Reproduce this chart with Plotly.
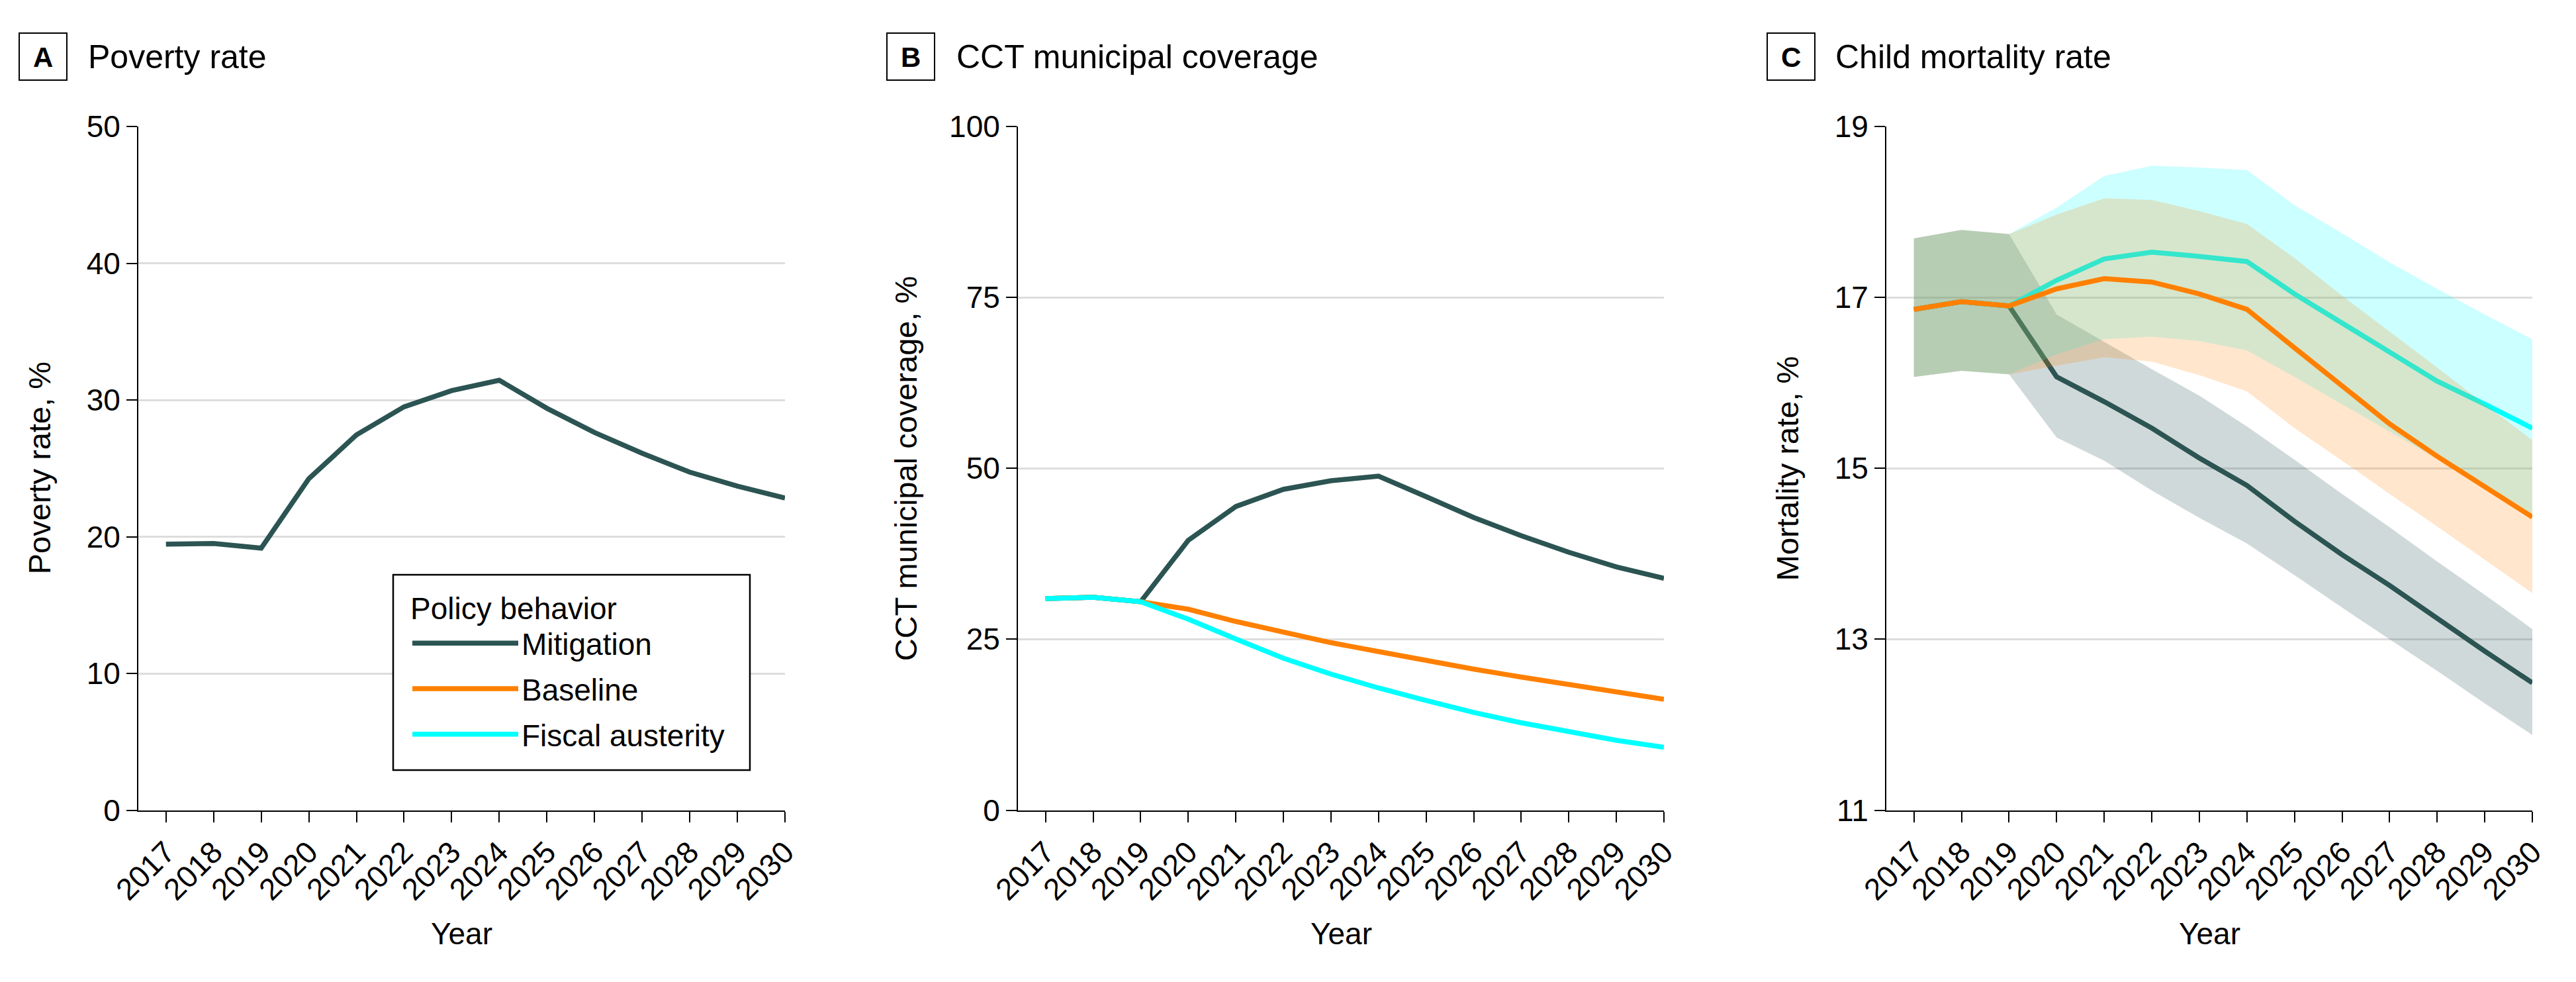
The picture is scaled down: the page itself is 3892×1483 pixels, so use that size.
import plotly.graph_objects as go

PAGE_W, PAGE_H = 3892, 1483
OFF = 8  # default body margin of the html page
W, H = PAGE_W - OFF, PAGE_H - OFF
FONT = "Liberation Sans, Arial, sans-serif"

years = list(range(2017, 2031))
year_labels = [str(y) for y in years]

# Panel A - poverty rate (%)
poverty_mitigation = [19.45, 19.50, 19.16, 24.24, 27.44, 29.50, 30.68, 31.44, 29.39, 27.62, 26.10, 24.72, 23.70, 22.83]

# Panel B - CCT municipal coverage (%)
cct_mitigation = [30.94, 31.14, 30.49, 39.47, 44.41, 46.93, 48.18, 48.86, 45.86, 42.81, 40.15, 37.72, 35.59, 33.90]
cct_baseline = [30.94, 31.14, 30.49, 29.39, 27.60, 25.96, 24.50, 23.20, 21.84, 20.63, 19.47, 18.40, 17.29, 16.22]
cct_austerity = [30.94, 31.14, 30.49, 27.94, 25.04, 22.23, 19.90, 17.87, 16.03, 14.29, 12.78, 11.43, 10.22, 9.20]

# Panel C - child mortality rate (%), with uncertainty bands
mort_mitigation = [16.86, 16.95, 16.90, 16.07, 15.78, 15.47, 15.12, 14.80, 14.38, 13.99, 13.63, 13.24, 12.86, 12.49]
mort_mitigation_lo = [16.07, 16.14, 16.10, 15.36, 15.09, 14.74, 14.42, 14.12, 13.75, 13.37, 13.00, 12.63, 12.25, 11.88]
mort_mitigation_hi = [17.69, 17.79, 17.74, 16.80, 16.48, 16.16, 15.85, 15.49, 15.10, 14.70, 14.31, 13.91, 13.52, 13.12]

mort_baseline = [16.86, 16.95, 16.90, 17.10, 17.22, 17.18, 17.04, 16.86, 16.41, 15.97, 15.52, 15.14, 14.78, 14.43]
mort_baseline_lo = [16.07, 16.14, 16.10, 16.20, 16.30, 16.25, 16.09, 15.90, 15.47, 15.09, 14.70, 14.32, 13.93, 13.54]
mort_baseline_hi = [17.69, 17.79, 17.74, 17.97, 18.16, 18.14, 18.01, 17.86, 17.46, 17.02, 16.60, 16.18, 15.75, 15.33]

mort_austerity = [16.86, 16.95, 16.90, 17.20, 17.45, 17.53, 17.48, 17.42, 17.04, 16.70, 16.37, 16.02, 15.75, 15.47]
mort_austerity_lo = [16.07, 16.14, 16.10, 16.33, 16.51, 16.54, 16.49, 16.38, 16.07, 15.75, 15.43, 15.11, 14.78, 14.47]
mort_austerity_hi = [17.69, 17.79, 17.74, 18.05, 18.42, 18.54, 18.52, 18.49, 18.08, 17.75, 17.41, 17.10, 16.80, 16.51]

C_MIT = "#2B5452"
C_BASE = "#FF8000"
C_AUST = "#00FFFF"
F_MIT = "rgba(43,84,82,0.22)"
F_BASE = "rgba(255,128,0,0.2)"
F_AUST = "rgba(0,255,255,0.2)"
LW = 7.5

fig = go.Figure()

# Panel A
fig.add_trace(go.Scatter(x=years, y=poverty_mitigation, mode="lines", line=dict(color=C_MIT, width=LW),
                         name="Mitigation", showlegend=False, xaxis="x", yaxis="y"))

# Panel B
fig.add_trace(go.Scatter(x=years, y=cct_mitigation, mode="lines", line=dict(color=C_MIT, width=LW),
                         name="Mitigation", legendrank=1, legendgroup="m", xaxis="x2", yaxis="y2"))
fig.add_trace(go.Scatter(x=years, y=cct_baseline, mode="lines", line=dict(color=C_BASE, width=LW),
                         name="Baseline", legendrank=2, legendgroup="b", xaxis="x2", yaxis="y2"))
fig.add_trace(go.Scatter(x=years, y=cct_austerity, mode="lines", line=dict(color=C_AUST, width=LW),
                         name="Fiscal austerity", legendrank=3, legendgroup="a", xaxis="x2", yaxis="y2"))

# Panel C
def band(lo, hi, fill):
    return go.Scatter(x=years + years[::-1], y=hi + lo[::-1], mode="lines", fill="toself",
                      fillcolor=fill, line=dict(width=0), hoverinfo="skip", showlegend=False,
                      xaxis="x3", yaxis="y3")

fig.add_trace(band(mort_mitigation_lo, mort_mitigation_hi, F_MIT))
fig.add_trace(go.Scatter(x=years, y=mort_mitigation, mode="lines", line=dict(color=C_MIT, width=LW),
                         showlegend=False, xaxis="x3", yaxis="y3"))
fig.add_trace(band(mort_austerity_lo, mort_austerity_hi, F_AUST))
fig.add_trace(go.Scatter(x=years, y=mort_austerity, mode="lines", line=dict(color=C_AUST, width=LW),
                         showlegend=False, xaxis="x3", yaxis="y3"))
fig.add_trace(band(mort_baseline_lo, mort_baseline_hi, F_BASE))
fig.add_trace(go.Scatter(x=years, y=mort_baseline, mode="lines", line=dict(color=C_BASE, width=LW),
                         showlegend=False, xaxis="x3", yaxis="y3"))

# page pixel -> paper coordinate
def px_x(p):
    return (p - OFF) / W

def px_y(p):
    return 1 - (p - OFF) / H

y_top, y_bot = 191, 1223.5
panels = [(209, 1186), (1538, 2514), (2850, 3826)]

tickfont = dict(family=FONT, size=46, color="black")
xcommon = dict(range=[2016.42, 2030], tickvals=years, ticktext=year_labels, tickangle=-45,
               ticks="outside", ticklen=16, tickwidth=2, tickcolor="black", showline=True,
               linecolor="black", linewidth=2, showgrid=False, zeroline=False, tickfont=tickfont,
               automargin=False)
ycommon = dict(ticks="outside", ticklen=16, tickwidth=2, tickcolor="black", showline=True,
               linecolor="black", linewidth=2, showgrid=True, gridcolor="#DDDDDD", gridwidth=3,
               zeroline=False, tickfont=tickfont, automargin=False)

layout = dict(
    width=W, height=H, margin=dict(l=0, r=0, t=0, b=0, autoexpand=False),
    paper_bgcolor="white", plot_bgcolor="white",
    font=dict(family=FONT, size=46, color="black"),
    showlegend=True,
    legend=dict(x=px_x(618), y=px_y(875), xanchor="left", yanchor="top",
                bgcolor="rgba(0,0,0,0)", borderwidth=0,
                font=dict(family=FONT, size=46, color="black"),
                title=dict(text="Policy behavior", font=dict(family=FONT, size=46)),
                traceorder="grouped", tracegroupgap=6, itemwidth=160),
)
yranges = [[0, 50], [0, 100], [11, 19]]
yticks = [[0, 10, 20, 30, 40, 50], [0, 25, 50, 75, 100], [11, 13, 15, 17, 19]]
for i, ((x0, x1), yr, yt) in enumerate(zip(panels, yranges, yticks)):
    sfx = "" if i == 0 else str(i + 1)
    xa = dict(xcommon, domain=[px_x(x0), px_x(x1)], anchor="y" + sfx)
    ya = dict(ycommon, domain=[px_y(y_bot), px_y(y_top)], range=yr, tickvals=yt, anchor="x" + sfx)
    layout["xaxis" + sfx] = xa
    layout["yaxis" + sfx] = ya

fig.update_layout(**layout)

# Legend frame (covers gridline behind the legend, as in the original)
fig.add_shape(type="rect", xref="paper", yref="paper", x0=px_x(594), x1=px_x(1133),
              y0=px_y(1163), y1=px_y(868), line=dict(color="black", width=2.5),
              fillcolor="white", layer="above")

# Panel titles with boxed letters
titles = [("A", "Poverty rate", 29, 131), ("B", "CCT municipal coverage", 1340, 1443), ("C", "Child mortality rate", 2670, 2771)]
for letter, text, bx, tx in titles:
    fig.add_shape(type="rect", xref="paper", yref="paper", x0=px_x(bx), x1=px_x(bx + 72),
                  y0=px_y(121), y1=px_y(50), line=dict(color="black", width=2), fillcolor="white")
    fig.add_annotation(xref="paper", yref="paper", x=px_x(bx + 36), y=px_y(86), text="<b>" + letter + "</b>",
                       showarrow=False, xanchor="center", yanchor="middle", font=dict(family=FONT, size=42))
    fig.add_annotation(xref="paper", yref="paper", x=px_x(tx), y=px_y(86), text=text,
                       showarrow=False, xanchor="left", yanchor="middle", font=dict(family=FONT, size=50))

# Axis titles
ytitles = [("Poverty rate, %", 59), ("CCT municipal coverage, %", 1368), ("Mortality rate, %", 2700)]
for text, cx in ytitles:
    fig.add_annotation(xref="paper", yref="paper", x=px_x(cx), y=px_y((y_top + y_bot) / 2), text=text,
                       textangle=-90, showarrow=False, xanchor="center", yanchor="middle",
                       font=dict(family=FONT, size=47))
for x0, x1 in panels:
    fig.add_annotation(xref="paper", yref="paper", x=px_x((x0 + x1) / 2), y=px_y(1410), text="Year",
                       showarrow=False, xanchor="center", yanchor="middle", font=dict(family=FONT, size=46))

fig.write_html("out.html")
